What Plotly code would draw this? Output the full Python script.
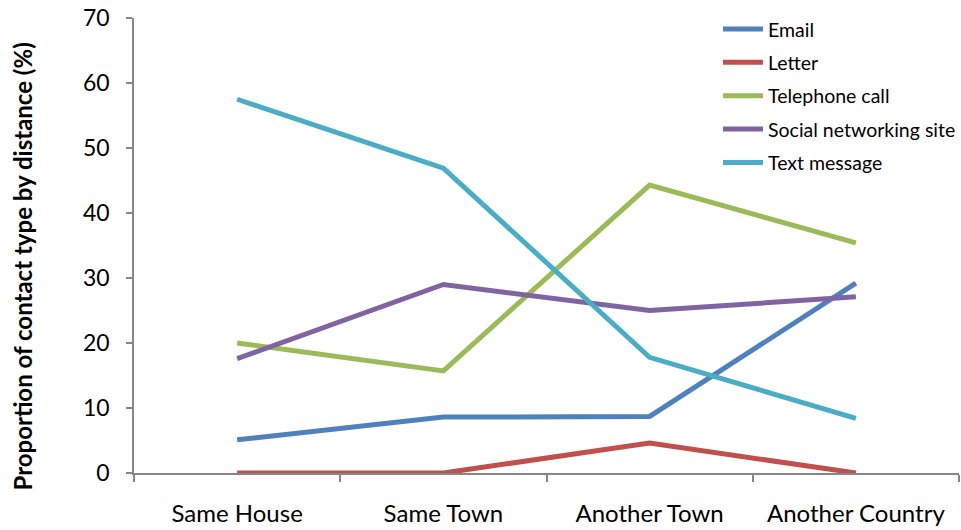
import plotly.graph_objects as go

# Distance categories and the share of each contact type (%)
categories = ["Same House", "Same Town", "Another Town", "Another Country"]
email = [5.1, 8.6, 8.7, 29.2]
letter = [0.0, 0.0, 4.6, 0.0]
telephone = [20.0, 15.7, 44.3, 35.4]
social = [17.6, 29.0, 25.0, 27.1]
text_msg = [57.5, 46.9, 17.8, 8.4]

series = [
    ("Email", email, "#4F81BD"),
    ("Letter", letter, "#C0504D"),
    ("Telephone call", telephone, "#9BBB59"),
    ("Social networking site", social, "#8064A2"),
    ("Text message", text_msg, "#4BACC6"),
]

FONT = "Lato, Calibri, 'Open Sans', sans-serif"
AXIS_GREY = "#878787"

fig = go.Figure()
for name, vals, color in series:
    fig.add_trace(go.Scatter(
        x=categories, y=vals, name=name, mode="lines",
        line=dict(color=color, width=5),
        legendgroup=name,
    ))

fig.update_layout(
    width=961, height=530,
    margin=dict(l=134, r=0, t=18, b=57),
    paper_bgcolor="white", plot_bgcolor="white",
    font=dict(family=FONT, color="black", size=20),
    showlegend=True,
    legend=dict(
        x=0.708, y=1.018, xanchor="left", yanchor="top",
        font=dict(size=19.5), tracegroupgap=5,
        bgcolor="rgba(0,0,0,0)", itemwidth=40,
    ),
    xaxis=dict(
        type="category", range=[-0.5, 3.5],
        showline=True, linecolor=AXIS_GREY, linewidth=1.5,
        ticks="outside", tickson="boundaries", ticklen=7,
        tickcolor=AXIS_GREY, tickwidth=1.5,
        showgrid=False, zeroline=False,
        tickfont=dict(size=24), ticklabelstandoff=18,
    ),
    yaxis=dict(
        range=[0, 70], dtick=10,
        showline=True, linecolor=AXIS_GREY, linewidth=1.5,
        ticks="outside", ticklen=6, tickcolor=AXIS_GREY, tickwidth=1.5,
        showgrid=False, zeroline=False,
        tickfont=dict(size=23), ticklabelstandoff=12,
    ),
    # Vertical axis title, placed slightly below the plot-area centre
    annotations=[dict(
        text="<b>Proportion of contact type by distance (%)</b>",
        xref="paper", yref="paper", x=-0.135, y=0.453,
        xanchor="center", yanchor="middle", textangle=-90,
        showarrow=False, font=dict(size=24, color="black"),
    )],
)

fig.write_html("out.html")
